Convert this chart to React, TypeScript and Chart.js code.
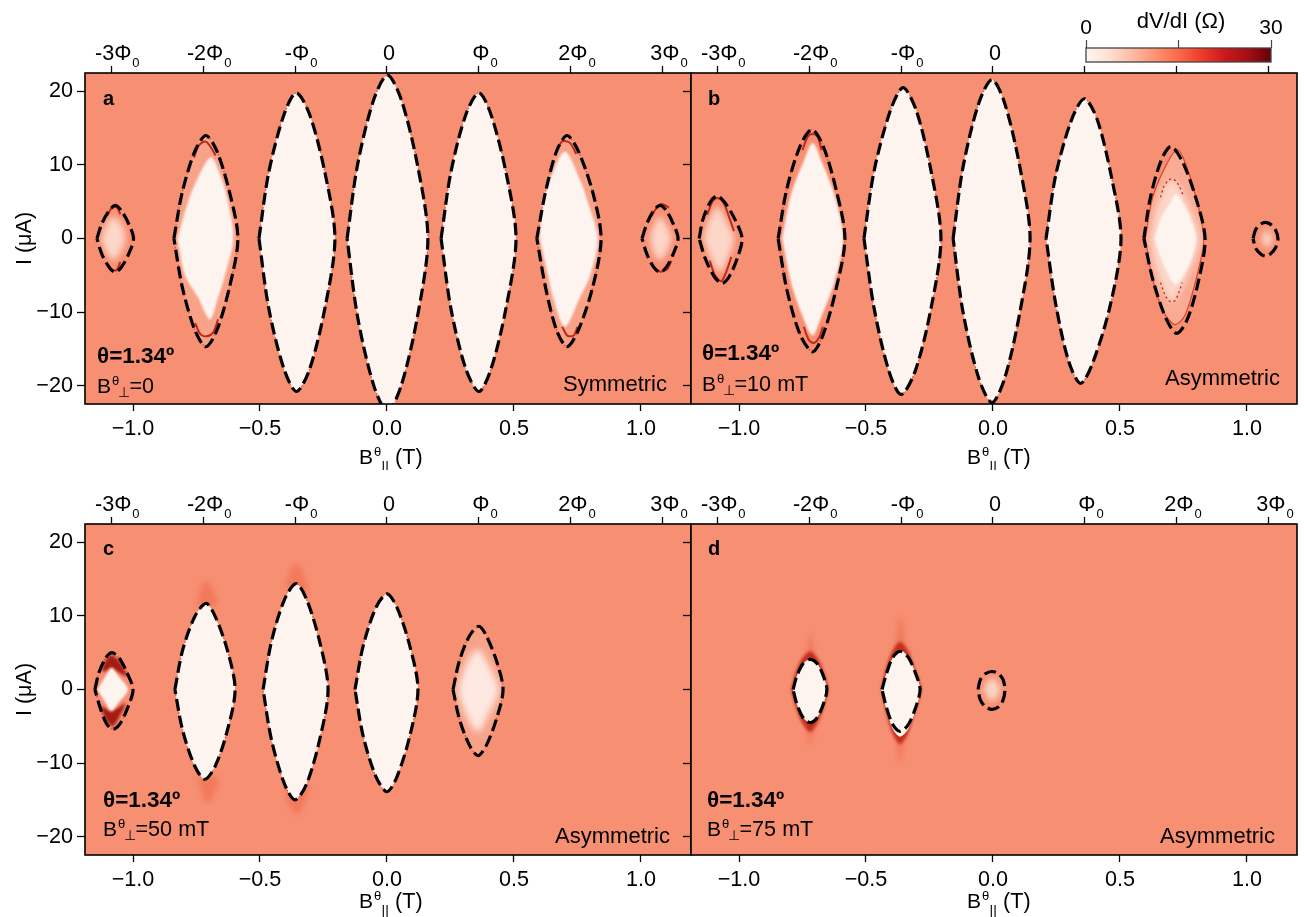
import React, { useEffect, useRef } from "react";
import { Chart, registerables } from "chart.js";

const softEdges = {
  id: "softEdges",
  beforeDatasetDraw(chart: any, args: any) {
    const b = (chart.data.datasets[args.index] as any).blurPx;
    if (b) chart.ctx.filter = `blur(${b}px)`;
  },
  afterDatasetDraw(chart: any) {
    chart.ctx.filter = "none";
  },
};
Chart.register(softEdges, ...registerables);

type P = number[][];

// ---- axis values and labels
const fieldTicks = [-1, -0.5, 0, 0.5, 1];
const currentTicks = [-20, -10, 0, 10, 20];
const fluxTicks = [-1.086, -0.724, -0.362, 0, 0.362, 0.724, 1.086];
const fluxLabels = ["-3Φ", "-2Φ", "-Φ", "0", "Φ", "2Φ", "3Φ"];
const fluxLabelsB = ["-3Φ", "-2Φ", "-Φ", "0", "", "", ""];
const colorTicks = [0, 15, 30];
const colorStops = ["#fff5f0", "#fee0d2", "#fcbba1", "#fc9272", "#fb6a4a", "#ef3b2c", "#cb181d", "#a50f15", "#67000d"];

// ---- panel a: critical-current contours (B, I)
const aM3: P = [[-1.142,0],[-1.123,2],[-1.094,3.8],[-1.07,4.5],[-1.046,3.8],[-1.017,2],[-.998,0],[-1.017,-2.1],[-1.046,-3.9],[-1.07,-4.6],[-1.094,-3.9],[-1.123,-2.1]];
const aM2: P = [[-.839,0],[-.806,6.3],[-.756,11.9],[-.713,14],[-.67,11.9],[-.62,6.3],[-.587,0],[-.62,-6.6],[-.67,-12.5],[-.713,-14.7],[-.756,-12.5],[-.806,-6.6]];
const aM1: P = [[-.504,0],[-.466,8.9],[-.406,16.8],[-.357,19.8],[-.304,16.8],[-.244,8.9],[-.205,0],[-.244,-9.4],[-.304,-17.7],[-.356,-20.8],[-.406,-17.7],[-.466,-9.4]];
const a00: P = [[-.157,0],[-.116,10],[-.052,18.9],[.002,22.2],[.056,18.9],[.12,10],[.161,0],[.12,-10.6],[.056,-20],[.002,-23.5],[-.052,-20],[-.116,-10.6]];
const aP1: P = [[.213,0],[.251,8.9],[.31,16.8],[.362,19.8],[.41,16.8],[.469,8.9],[.508,0],[.469,-9.4],[.41,-17.7],[.362,-20.8],[.31,-17.7],[.251,-9.4]];
const aP2: P = [[.59,0],[.624,6.3],[.668,11.9],[.709,14],[.753,11.9],[.81,6.3],[.843,0],[.81,-6.6],[.753,-12.5],[.709,-14.7],[.668,-12.5],[.624,-6.6]];
const aP3: P = [[1.004,0],[1.023,2],[1.05,3.8],[1.075,4.5],[1.1,3.8],[1.127,2],[1.146,0],[1.127,-2.1],[1.1,-3.9],[1.075,-4.6],[1.05,-3.9],[1.023,-2.1]];
// panel a: inner resistive regions
const aM3Pale: P = [[-1.125,0],[-1.105,1.9],[-1.075,3],[-1.045,1.9],[-1.03,0],[-1.05,-1.9],[-1.075,-3],[-1.105,-1.9]];
const aM3RimT: P = [[-1.1,3.2],[-1.085,4.1],[-1.065,4.3],[-1.05,3.3]];
const aM3RimB: P = [[-1.105,-3.3],[-1.085,-4.2],[-1.065,-4.3],[-1.05,-3.2]];
const aM2Core: P = [[-.825,0],[-.783,5],[-.748,8],[-.693,11],[-.65,8],[-.626,5],[-.605,0],[-.638,-5],[-.665,-8],[-.697,-11],[-.744,-8],[-.795,-5]];
const aM2RimT: P = [[-.76,11],[-.74,12.7],[-.715,13.2],[-.695,12.5],[-.675,11.3]];
const aM2RimB: P = [[-.755,-11.5],[-.735,-13],[-.71,-13.3],[-.685,-12.8],[-.665,-11]];
const aP2Core: P = [[.602,0],[.614,5],[.642,8],[.7,11.8],[.76,8],[.79,5],[.83,0],[.8,-5],[.76,-8],[.7,-12],[.654,-8],[.634,-5]];
const aP2RimT: P = [[.67,12],[.69,13.2],[.72,13],[.745,11.5]];
const aP2RimB: P = [[.69,-12],[.71,-13.2],[.735,-13.2],[.75,-12]];
const aP3Pale: P = [[1.035,0],[1.05,1.8],[1.075,3],[1.1,1.8],[1.12,0],[1.1,-1.9],[1.075,-3],[1.05,-1.9]];
const aP3RimT: P = [[1.04,3],[1.06,4.1],[1.08,4.7],[1.11,4.2]];
const aP3RimB: P = [[1.05,-3.8],[1.075,-4.5],[1.105,-4.1],[1.12,-3]];

// ---- panel b
const bM3: P = [[-1.157,0],[-1.142,2.6],[-1.114,4.9],[-1.087,5.8],[-1.056,4.9],[-1.016,2.6],[-.988,0],[-1.007,-2.7],[-1.039,-5.2],[-1.067,-6.1],[-1.097,-5.2],[-1.133,-2.7]];
const bM2: P = [[-.846,0],[-.812,6.7],[-.759,12.6],[-.713,14.8],[-.669,12.6],[-.618,6.7],[-.583,0],[-.618,-6.9],[-.669,-13.1],[-.71,-15.4],[-.759,-13.1],[-.812,-6.9]];
const bM1: P = [[-.508,0],[-.468,9.2],[-.404,17.4],[-.354,20.5],[-.302,17.4],[-.244,9.2],[-.205,0],[-.244,-9.5],[-.306,-18],[-.362,-21.2],[-.41,-18],[-.468,-9.5]];
const b00: P = [[-.157,0],[-.118,9.7],[-.056,18.4],[-.004,21.6],[.046,18.4],[.106,9.7],[.146,0],[.106,-10],[.046,-19],[-.004,-22.3],[-.056,-19],[-.118,-10]];
const bP1: P = [[.209,0],[.247,8.6],[.31,16.2],[.36,19],[.41,16.2],[.465,8.6],[.504,0],[.463,-8.9],[.395,-16.7],[.345,-19.7],[.298,-16.7],[.247,-8.9]];
const bP2: P = [[.594,0],[.62,5.6],[.662,10.6],[.7,12.5],[.744,10.6],[.798,5.6],[.835,0],[.809,-5.8],[.765,-11],[.724,-12.9],[.683,-11],[.631,-5.8]];
const bP3: P = [[1.024,0],[1.034,1.2],[1.054,1.95],[1.073,2.2],[1.092,1.95],[1.112,1.2],[1.122,0],[1.112,-1.3],[1.092,-2.1],[1.073,-2.4],[1.054,-2.1],[1.034,-1.3]];
const bM3Pale: P = [[-1.14,0],[-1.12,2.4],[-1.085,4.3],[-1.05,2.4],[-1.02,0],[-1.04,-2.4],[-1.075,-4.6],[-1.115,-2.4]];
const bM3RimT: P = [[-1.125,3.2],[-1.105,5],[-1.085,5.5],[-1.06,4.8],[-1.04,3],[-1.02,1]];
const bM3RimB: P = [[-1.115,-3],[-1.095,-5],[-1.07,-5.8],[-1.05,-4.5],[-1.03,-2.5]];
const bM2Core: P = [[-.83,0],[-.795,6],[-.745,10.5],[-.71,13],[-.675,10.5],[-.625,6],[-.59,0],[-.625,-6],[-.675,-10.5],[-.71,-13.2],[-.75,-10.5],[-.795,-6]];
const bM2RimT: P = [[-.75,12],[-.73,13.8],[-.71,14.2],[-.69,13.8],[-.675,12]];
const bM2RimB: P = [[-.745,-12],[-.725,-13.8],[-.705,-14.2],[-.685,-13.5],[-.67,-12]];
const bP2Rim: P = [[.6,0],[.628,5.5],[.682,10],[.728,12.1],[.76,10],[.8,5.5],[.83,0],[.8,-5.5],[.755,-10.5],[.716,-11.7],[.672,-10],[.628,-5.5]];
const bP2Mid: P = [[.618,0],[.64,3.8],[.672,6.8],[.705,8.1],[.74,6.8],[.78,3.8],[.815,0],[.78,-4],[.74,-7],[.705,-8.6],[.672,-7],[.64,-4]];
const bP2Core: P = [[.635,0],[.665,3],[.7,5],[.72,6],[.745,5],[.775,3],[.8,0],[.78,-3],[.745,-5.3],[.72,-6.3],[.695,-5.3],[.665,-3]];
const bP2RimT: P = [[.66,5.6],[.672,7],[.69,7.9],[.705,8.1],[.72,7.8],[.735,7],[.75,5.8]];
const bP2RimB: P = [[.66,-6],[.675,-7.5],[.69,-8.4],[.705,-8.6],[.718,-8.4],[.73,-7.5],[.745,-6]];
const bP3Pale: P = [[1.055,0],[1.08,1.3],[1.1,0],[1.08,-1.3]];

// ---- panel c
const cM3: P = [[-1.15,0],[-1.134,2.3],[-1.107,4.3],[-1.083,5],[-1.055,4.3],[-1.024,2.3],[-1,0],[-1.02,-2.4],[-1.05,-4.6],[-1.079,-5.4],[-1.105,-4.6],[-1.13,-2.4]];
const cM2: P = [[-.835,0],[-.805,5.3],[-.757,9.9],[-.712,11.7],[-.676,9.9],[-.628,5.3],[-.598,0],[-.628,-5.5],[-.676,-10.4],[-.717,-12.2],[-.757,-10.4],[-.805,-5.5]];
const cM1: P = [[-.488,0],[-.455,6.5],[-.404,12.2],[-.358,14.4],[-.316,12.2],[-.265,6.5],[-.232,0],[-.265,-6.8],[-.316,-12.8],[-.362,-15],[-.404,-12.8],[-.455,-6.8]];
const c00: P = [[-.126,0],[-.094,5.9],[-.044,11.1],[0,13],[.04,11.1],[.09,5.9],[.122,0],[.09,-6.3],[.04,-11.8],[0,-13.9],[-.044,-11.8],[-.094,-6.3]];
const cP1: P = [[.26,0],[.285,3.9],[.325,7.3],[.362,8.6],[.391,7.3],[.431,3.9],[.457,0],[.431,-4],[.391,-7.6],[.358,-9],[.325,-7.6],[.285,-4]];
const cM3Core: P = [[-1.14,0],[-1.11,1.7],[-1.085,2.9],[-1.055,1.7],[-1.02,0],[-1.055,-1.7],[-1.085,-2.9],[-1.11,-1.7]];
const cM3CapT: P = [[-1.125,2.5],[-1.105,4.1],[-1.085,4.7],[-1.05,3.7],[-1.025,1.8],[-1.065,2.5],[-1.085,3],[-1.105,2.5]];
const cM3CapB: P = [[-1.13,-2.2],[-1.105,-4.2],[-1.08,-5],[-1.055,-3.8],[-1.03,-1.9],[-1.065,-2.6],[-1.085,-3],[-1.11,-2.5]];
const cM2GhostT: P = [[-.75,11.5],[-.73,14],[-.712,14.7],[-.69,14],[-.67,11.5]];
const cM2GhostB: P = [[-.745,-12],[-.715,-15.3],[-.69,-15],[-.665,-12]];
const cM1GhostT: P = [[-.4,14],[-.38,16.2],[-.355,17],[-.335,16.2],[-.315,13]];
const cM1GhostB: P = [[-.405,-13],[-.385,-15.8],[-.355,-17],[-.33,-16],[-.31,-13]];
const cP1Core: P = [[.277,0],[.31,3.3],[.358,5.5],[.4,3.3],[.44,0],[.4,-3.3],[.358,-5.8],[.31,-3.3]];

// ---- panel d
const dM2: P = [[-.787,0],[-.772,1.85],[-.748,3.5],[-.72,4.1],[-.692,3.5],[-.668,1.85],[-.654,0],[-.668,-2],[-.692,-3.8],[-.72,-4.5],[-.748,-3.8],[-.772,-2]];
const dM1: P = [[-.437,0],[-.418,2.3],[-.394,4.4],[-.366,5.2],[-.334,4.4],[-.306,2.3],[-.287,0],[-.306,-2.6],[-.334,-4.8],[-.366,-5.7],[-.394,-4.8],[-.418,-2.6]];
const d00: P = [[-.059,0],[-.05,1.3],[-.03,2.15],[-.004,2.45],[.022,2.15],[.04,1.3],[.047,0],[.04,-1.4],[.022,-2.35],[-.004,-2.7],[-.03,-2.35],[-.05,-1.4]];
const dM2Glow: P = [[-.75,0],[-.72,7.5],[-.69,0],[-.72,-7.5]];
const dM1Glow: P = [[-.4,0],[-.366,10],[-.33,0],[-.366,-10]];
const dM2Halo: P = [[-.795,0],[-.775,2.5],[-.752,4.2],[-.72,5.2],[-.69,4.2],[-.668,2.5],[-.65,0],[-.668,-2.5],[-.69,-4.5],[-.72,-5.8],[-.752,-4.5],[-.775,-2.5]];
const dM1Halo: P = [[-.44,0],[-.42,3],[-.395,5.3],[-.366,6.5],[-.335,5.3],[-.31,3],[-.283,0],[-.31,-3.2],[-.335,-6],[-.366,-7.4],[-.395,-6],[-.42,-3.2]];
const dM1Core: P = [[-.44,0],[-.418,2.3],[-.394,4.4],[-.366,5.4],[-.334,4.4],[-.306,2.3],[-.287,0],[-.306,-2.9],[-.334,-5.4],[-.366,-6.4],[-.394,-5.4],[-.418,-2.9]];
const d00Pale: P = [[-.04,0],[-.005,1.6],[.03,0],[-.005,-1.6]];

// ---- draw order per panel
const layersA: [P, string][] = [
  [aM3Pale,"pale"],[aM3RimT,"rim"],[aM3RimB,"rim"],
  [aM2,"mid"],[aM2Core,"softWhite"],[aM2RimT,"rim"],[aM2RimB,"rim"],
  [aM1,"white"],[a00,"white"],[aP1,"white"],
  [aP2,"mid"],[aP2Core,"softWhite"],[aP2RimT,"rim"],[aP2RimB,"rim"],
  [aP3Pale,"pale"],[aP3RimT,"rim"],[aP3RimB,"rim"],
  [aM2,"edge"],[aM1,"edge"],[a00,"edge"],[aP1,"edge"],[aP2,"edge"],
  [aM3,"outline"],[aM2,"outline"],[aM1,"outline"],[a00,"outline"],[aP1,"outline"],[aP2,"outline"],[aP3,"outline"],
];
const layersB: [P, string][] = [
  [bM3Pale,"pale"],[bM3RimT,"rim"],[bM3RimB,"rim"],
  [bM2Core,"softWhite"],[bM2RimT,"rim"],[bM2RimB,"rim"],
  [bM1,"white"],[b00,"white"],[bP1,"white"],
  [bP2Rim,"midRim"],[bP2Mid,"pale"],[bP2Core,"softWhite"],[bP2RimT,"rimThin"],[bP2RimB,"rimThin"],
  [bP3Pale,"pale"],
  [bM2,"edge"],[bM1,"edge"],[b00,"edge"],[bP1,"edge"],
  [bM3,"outline"],[bM2,"outline"],[bM1,"outline"],[b00,"outline"],[bP1,"outline"],[bP2,"outline"],[bP3,"outline"],
];
const layersC: [P, string][] = [
  [cM3CapT,"dark"],[cM3CapB,"dark"],[cM3Core,"softWhite"],
  [cM2GhostT,"ghost"],[cM2GhostB,"ghost"],[cM1GhostT,"ghost"],[cM1GhostB,"ghost"],
  [cM2,"white"],[cM1,"white"],[c00,"white"],[cP1,"mid"],[cP1Core,"paleWhite"],
  [cM3,"edge"],[cM2,"edge"],[cM1,"edge"],[c00,"edge"],[cP1,"edge"],
  [cM3,"outline"],[cM2,"outline"],[cM1,"outline"],[c00,"outline"],[cP1,"outline"],
];
const layersD: [P, string][] = [
  [dM2Glow,"ghost"],[dM1Glow,"ghost"],[dM2Halo,"halo"],[dM1Halo,"halo"],
  [dM2,"white"],[dM1Core,"white"],[d00Pale,"pale"],
  [dM2,"outline"],[dM1,"outline"],[d00,"outline"],
];

const KIND: Record<string, any> = {
  white: { fill: "shape", backgroundColor: "#fef4ef", borderWidth: 0 },
  softWhite: { fill: "shape", backgroundColor: "#fef4ef", borderWidth: 0, blurPx: 1.2 },
  paleWhite: { fill: "shape", backgroundColor: "#fde9e1", borderWidth: 0, blurPx: 3.5 },
  pale: { fill: "shape", backgroundColor: "#fcd6c8", borderWidth: 0, blurPx: 3 },
  mid: { fill: "shape", backgroundColor: "#f8a288", borderWidth: 0, blurPx: 1 },
  midRim: { fill: "shape", backgroundColor: "#faab93", borderColor: "#d9432b", borderWidth: 1.2 },
  ghost: { fill: "shape", backgroundColor: "#f27a5c", borderWidth: 0, blurPx: 2.5 },
  halo: { fill: "shape", backgroundColor: "#c4301f", borderWidth: 0, blurPx: 1.5 },
  dark: { fill: "shape", backgroundColor: "#a31b13", borderWidth: 0, blurPx: 1.5 },
  rim: { fill: false, borderColor: "#bc2a1c", borderWidth: 2, open: true, blurPx: 0.5 },
  rimThin: { fill: false, borderColor: "#b0281a", borderWidth: 1.3, borderDash: [2, 3], open: true },
  edge: { fill: false, borderColor: "rgba(222,62,40,0.75)", borderWidth: 1.3, borderDash: [2, 4] },
  outline: { fill: false, borderColor: "#000", borderWidth: 3.2, borderDash: [12, 5] },
};

const FONT = '"Liberation Sans", "DejaVu Sans", sans-serif';
const PANEL_BG = "#f78f72";
const XMIN = -1.189, XMAX = 1.197, YMIN = -22.5, YMAX = 22.5;

type Run = { t: string; dx: number; dy: number; size: number };
const bParallelRuns: Run[] = [
  { t: "B", dx: 0, dy: 0, size: 21 }, { t: "θ", dx: 15, dy: -8, size: 13 },
  { t: "||", dx: 22.5, dy: 8, size: 14 }, { t: "(T)", dx: 36, dy: 0, size: 21.6 },
];
const bPerpRuns = (tail: string): Run[] => [
  { t: "B", dx: 0, dy: 0, size: 21 }, { t: "θ", dx: 15, dy: -8, size: 13 },
  { t: "⊥", dx: 21, dy: 4, size: 14 }, { t: tail, dx: 32.5, dy: 0, size: 21.6 },
];

type Cfg = {
  box: number[]; area: number[]; layers: [P, string][]; flux: string[]; showY: boolean;
  letter: string; letterPos: number[]; thetaPos: number[]; perp: string; perpPos: number[];
  mode: string; modePos: number[]; titlePos: number[];
};

const panels: Cfg[] = [
  { box: [0,0,700,470], area: [85,73,691,404], layers: layersA, flux: fluxLabels, showY: true, letter: "a", letterPos: [103,105], thetaPos: [97,363], perp: "=0", perpPos: [97,393], mode: "Symmetric", modePos: [667,391], titlePos: [359,464] },
  { box: [655,0,649,470], area: [691,73,1297,404], layers: layersB, flux: fluxLabelsB, showY: false, letter: "b", letterPos: [708,105], thetaPos: [702,360], perp: "=10 mT", perpPos: [702,391], mode: "Asymmetric", modePos: [1280,385], titlePos: [967,464] },
  { box: [0,470,700,447], area: [85,524,691,855], layers: layersC, flux: fluxLabels, showY: true, letter: "c", letterPos: [103,555], thetaPos: [103,807], perp: "=50 mT", perpPos: [103,836], mode: "Asymmetric", modePos: [670,843], titlePos: [359,908] },
  { box: [655,470,649,447], area: [691,524,1297,855], layers: layersD, flux: fluxLabels, showY: false, letter: "d", letterPos: [708,555], thetaPos: [707,807], perp: "=75 mT", perpPos: [707,836], mode: "Asymmetric", modePos: [1275,843], titlePos: [967,908] },
];

function drawRuns(ctx: CanvasRenderingContext2D, runs: Run[], x: number, y: number) {
  ctx.fillStyle = "#000";
  ctx.textAlign = "left";
  ctx.textBaseline = "alphabetic";
  for (const r of runs) {
    ctx.font = `${r.size}px ${FONT}`;
    ctx.fillText(r.t, x + r.dx, y + r.dy);
  }
}

function makePanel(canvas: HTMLCanvasElement, cfg: Cfg) {
  const [bx, by, bw, bh] = cfg.box;
  const [al, at, ar, ab] = cfg.area;
  const yWidth = cfg.showY ? 77 : 8;
  const topH = 44, botH = 48;
  const datasets = cfg.layers.map(([pts, kind], i) => {
    const k = KIND[kind];
    const list = k.open ? pts : [...pts, pts[0]];
    return {
      ...k,
      data: list.map(([x, y]) => ({ x, y })),
      showLine: true, pointRadius: 0, pointHoverRadius: 0,
      tension: 0.3, order: cfg.layers.length - i, xAxisID: "x", yAxisID: "y",
    };
  });
  const tickStyle = { drawOnChartArea: false, tickColor: "#000", tickWidth: 1.3 };
  const tickFont = { family: FONT, size: 21.6 };
  const decor = {
    id: "panelDecor",
    beforeDatasetsDraw(chart: any) {
      const { ctx, chartArea: a } = chart;
      ctx.save();
      ctx.fillStyle = PANEL_BG;
      ctx.fillRect(a.left, a.top, a.right - a.left, a.bottom - a.top);
      ctx.restore();
    },
    afterDraw(chart: any) {
      const { ctx, chartArea: a } = chart;
      ctx.save();
      ctx.strokeStyle = "#000";
      ctx.lineWidth = 1.6;
      ctx.strokeRect(a.left, a.top, a.right - a.left, a.bottom - a.top);
      const topScale = chart.scales.xTop;
      ctx.fillStyle = "#000";
      ctx.textBaseline = "alphabetic";
      ctx.textAlign = "left";
      const sub = "0";
      fluxTicks.forEach((v, i) => {
        const lab = cfg.flux[i];
        if (!lab || lab === "0") return;
        ctx.font = `21.6px ${FONT}`;
        const w = ctx.measureText(lab).width;
        const x = topScale.getPixelForValue(v) + 2 + w / 2 + 1;
        ctx.font = `13px ${FONT}`;
        ctx.fillText(sub, x, a.top - 6.5);
      });
      const ox = -bx, oy = -by;
      ctx.font = `bold 20px ${FONT}`;
      ctx.fillText(cfg.letter, cfg.letterPos[0] + ox, cfg.letterPos[1] + oy);
      ctx.font = `bold 22.5px ${FONT}`;
      ctx.fillText("θ=1.34º", cfg.thetaPos[0] + ox, cfg.thetaPos[1] + oy);
      drawRuns(ctx, bPerpRuns(cfg.perp), cfg.perpPos[0] + ox, cfg.perpPos[1] + oy);
      ctx.font = `22px ${FONT}`;
      ctx.textAlign = "right";
      ctx.fillText(cfg.mode, cfg.modePos[0] + ox, cfg.modePos[1] + oy);
      drawRuns(ctx, bParallelRuns, cfg.titlePos[0] + ox, cfg.titlePos[1] + oy);
      ctx.restore();
    },
  };
  return new Chart(canvas, {
    type: "scatter",
    data: { datasets },
    plugins: [decor],
    options: {
      responsive: false,
      animation: false,
      events: [],
      layout: { padding: { left: al - bx - yWidth, top: at - by - topH, right: bx + bw - ar, bottom: by + bh - ab - botH } },
      plugins: { legend: { display: false }, tooltip: { enabled: false }, title: { display: false } },
      scales: {
        x: {
          type: "linear", position: "bottom", min: XMIN, max: XMAX, bounds: "data",
          afterBuildTicks: (s: any) => { s.ticks = fieldTicks.map((value) => ({ value })); },
          afterFit: (s: any) => { s.height = botH; },
          grid: { ...tickStyle, tickLength: 7 }, border: { display: false },
          ticks: { font: tickFont, color: "#000", padding: 5, autoSkip: false, maxRotation: 0,
            callback: (v: any) => (v < 0 ? "\u2212" : "") + Math.abs(v).toFixed(1) },
        },
        xTop: {
          type: "linear", axis: "x", position: "top", min: XMIN, max: XMAX, bounds: "data",
          afterBuildTicks: (s: any) => { s.ticks = fluxTicks.map((value) => ({ value })); },
          afterFit: (s: any) => { s.height = topH; },
          grid: { ...tickStyle, tickLength: 7 }, border: { display: false },
          ticks: { font: tickFont, color: "#000", padding: -1, autoSkip: false, maxRotation: 0, labelOffset: 2,
            callback: (_v: any, i: number) => cfg.flux[i] },
        },
        y: {
          type: "linear", position: "left", min: YMIN, max: YMAX, bounds: "data",
          afterBuildTicks: (s: any) => { s.ticks = currentTicks.map((value) => ({ value })); },
          afterFit: (s: any) => { s.width = yWidth; },
          grid: { ...tickStyle, tickLength: 8 }, border: { display: false },
          title: { display: cfg.showY, text: "I (μA)", color: "#000", font: { family: FONT, size: 21.6 } },
          ticks: { display: cfg.showY, font: tickFont, color: "#000", padding: 4, autoSkip: false,
            callback: (v: any) => (v < 0 ? "\u2212" : "") + Math.abs(v) },
        },
      },
    } as any,
  });
}

function makeColorbar(canvas: HTMLCanvasElement) {
  const decor = {
    id: "barDecor",
    beforeDatasetsDraw(chart: any) {
      const { ctx, chartArea: a } = chart;
      const g = ctx.createLinearGradient(a.left, 0, a.right, 0);
      colorStops.forEach((c, i) => g.addColorStop(i / (colorStops.length - 1), c));
      ctx.save();
      ctx.fillStyle = g;
      ctx.fillRect(a.left, a.top, a.right - a.left, a.bottom - a.top);
      ctx.strokeStyle = "#444";
      ctx.lineWidth = 1.3;
      ctx.strokeRect(a.left, a.top, a.right - a.left, a.bottom - a.top);
      ctx.fillStyle = "#000";
      ctx.font = `22px ${FONT}`;
      ctx.textAlign = "center";
      ctx.textBaseline = "alphabetic";
      ctx.fillText("dV/dI (Ω)", 121, 28);
      ctx.restore();
    },
  };
  return new Chart(canvas, {
    type: "scatter",
    data: { datasets: [{ data: [] }] },
    plugins: [decor],
    options: {
      responsive: false, animation: false, events: [],
      layout: { padding: { left: 26, right: 29, top: 0, bottom: 8 } },
      plugins: { legend: { display: false }, tooltip: { enabled: false } },
      scales: {
        x: {
          type: "linear", position: "top", min: 0, max: 30, bounds: "data",
          afterBuildTicks: (s: any) => { s.ticks = colorTicks.map((value) => ({ value })); },
          afterFit: (s: any) => { s.height = 48; },
          grid: { drawOnChartArea: false, tickColor: "#444", tickWidth: 1.2, tickLength: 8 }, border: { display: false },
          ticks: { font: { family: FONT, size: 21 }, color: "#000", padding: -1, autoSkip: false, maxRotation: 0,
            callback: (v: any) => (v === 15 ? "" : String(v)) },
        },
        y: { display: false, min: 0, max: 1 },
      },
    } as any,
  });
}

export default function App() {
  const refs = useRef<(HTMLCanvasElement | null)[]>([]);
  const barRef = useRef<HTMLCanvasElement | null>(null);
  useEffect(() => {
    const charts = panels.map((p, i) => makePanel(refs.current[i]!, p));
    charts.push(makeColorbar(barRef.current!));
    return () => charts.forEach((c) => c.destroy());
  }, []);
  return (
    <div style={{ position: "absolute", left: 0, top: 0, width: 1304, height: 917, background: "#fff", overflow: "hidden" }}>
      {panels.map((p, i) => (
        <canvas
          key={p.letter}
          ref={(el) => { refs.current[i] = el; }}
          width={p.box[2]}
          height={p.box[3]}
          style={{ position: "absolute", left: p.box[0], top: p.box[1], width: p.box[2], height: p.box[3] }}
        />
      ))}
      <canvas ref={barRef} width={240} height={70} style={{ position: "absolute", left: 1060, top: 0, width: 240, height: 70 }} />
    </div>
  );
}
